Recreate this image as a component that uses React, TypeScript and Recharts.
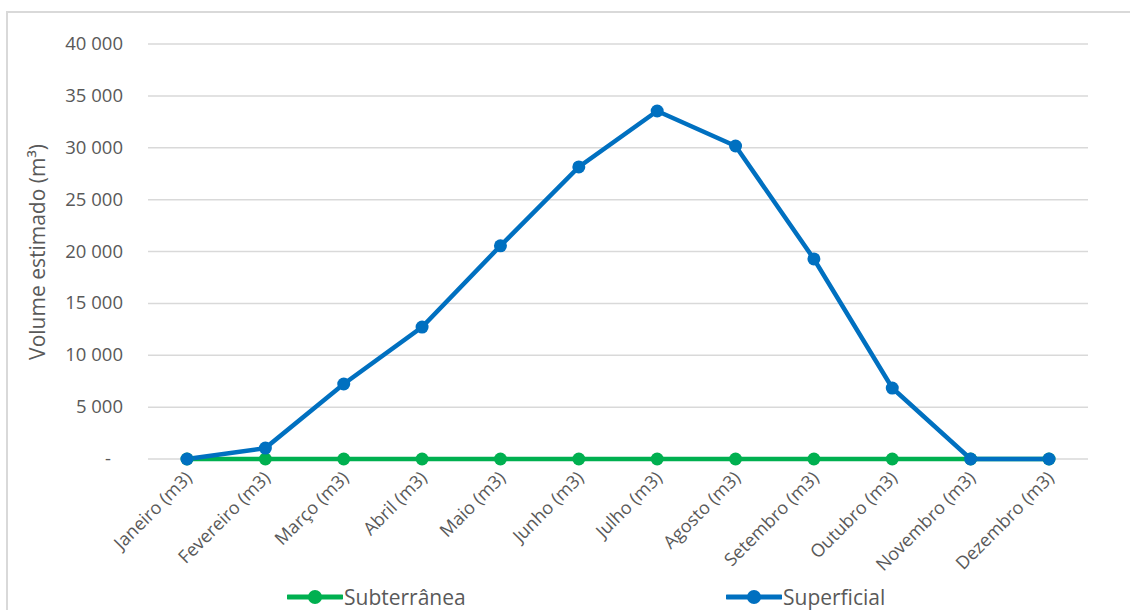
import React from "react";
import { LineChart, Line, XAxis, YAxis, CartesianGrid } from "recharts";

const MONTHS = [
  "Janeiro (m3)",
  "Fevereiro (m3)",
  "Março (m3)",
  "Abril (m3)",
  "Maio (m3)",
  "Junho (m3)",
  "Julho (m3)",
  "Agosto (m3)",
  "Setembro (m3)",
  "Outubro (m3)",
  "Novembro (m3)",
  "Dezembro (m3)",
];

const SUBTERRANEA = [0, 0, 0, 0, 0, 0, 0, 0, 0, 0, 0, 0];
const SUPERFICIAL = [0, 1050, 7230, 12720, 20550, 28150, 33540, 30170, 19280, 6840, 0, 0];

const Y_TICKS = [0, 5000, 10000, 15000, 20000, 25000, 30000, 35000, 40000];

const GREEN = "#00B050";
const BLUE = "#0070C0";
const TEXT = "#595959";
const FONT = "'Open Sans', sans-serif";

const rows = MONTHS.map((name, i) => ({
  name,
  sub: SUBTERRANEA[i],
  sup: SUPERFICIAL[i],
}));

const fmtY = (v: number) =>
  v === 0 ? "-" : String(v).replace(/\B(?=(\d{3})+(?!\d))/g, " ");

function YTick(props: any) {
  const { x, y, payload } = props;
  const v = payload.value as number;
  return (
    <text
      x={v === 0 ? x - 12 : x}
      y={y}
      dy={6}
      textAnchor="end"
      fill={TEXT}
      fontFamily={FONT}
      fontSize={18.5}
    >
      {fmtY(v)}
    </text>
  );
}

function XTick(props: any) {
  const { x, y, payload } = props;
  const ax = x + 6;
  const ay = y + 12;
  return (
    <text
      x={ax}
      y={ay}
      textAnchor="end"
      transform={`rotate(-45, ${ax}, ${ay})`}
      fill={TEXT}
      fontFamily={FONT}
      fontSize={18}
    >
      {payload.value}
    </text>
  );
}

function LegendItem({ left, color, label }: { left: number; color: string; label: string }) {
  return (
    <div
      style={{
        position: "absolute",
        left,
        top: 583,
        display: "flex",
        alignItems: "center",
        fontFamily: FONT,
        fontSize: 21,
        color: TEXT,
      }}
    >
      <svg width={56} height={28}>
        <line x1={1} y1={14} x2={55} y2={14} stroke={color} strokeWidth={5} strokeLinecap="round" />
        <circle cx={28} cy={14} r={7} fill={color} />
      </svg>
      <span style={{ marginLeft: 1 }}>{label}</span>
    </div>
  );
}

export default function App() {
  return (
    <div
      style={{
        position: "absolute",
        left: 0,
        top: 0,
        width: 1130,
        height: 610,
        overflow: "hidden",
        background: "#fff",
      }}
    >
      <div
        style={{
          position: "absolute",
          left: 6,
          top: 11,
          width: 1160,
          height: 640,
          border: "2px solid #d9d9d9",
        }}
      />
      <div style={{ position: "absolute", left: 0, top: 0 }}>
        <LineChart
          width={1130}
          height={610}
          data={rows}
          margin={{ top: 44, right: 42, left: 0, bottom: 0 }}
        >
          <CartesianGrid vertical={false} stroke="#d9d9d9" strokeWidth={1.5} />
          <XAxis
            dataKey="name"
            interval={0}
            padding={{ left: 39, right: 39 }}
            axisLine={false}
            tickLine={false}
            tick={<XTick />}
            height={151}
          />
          <YAxis
            domain={[0, 40000]}
            ticks={Y_TICKS}
            width={148}
            axisLine={false}
            tickLine={false}
            tickMargin={19}
            tick={<YTick />}
            label={() => {
              const cx = 37;
              const cy = 252;
              return (
                <text
                  x={cx}
                  y={cy}
                  textAnchor="middle"
                  dominantBaseline="central"
                  transform={`rotate(-90, ${cx}, ${cy})`}
                  fill={TEXT}
                  fontFamily={FONT}
                  fontSize={21}
                >
                  Volume estimado (m³)
                </text>
              );
            }}
          />
          <Line
            dataKey="sub"
            stroke={GREEN}
            strokeWidth={4.5}
            dot={{ r: 6.5, fill: GREEN, stroke: GREEN, strokeWidth: 0 }}
            isAnimationActive={false}
          />
          <Line
            dataKey="sup"
            stroke={BLUE}
            strokeWidth={4.5}
            dot={{ r: 6.5, fill: BLUE, stroke: BLUE, strokeWidth: 0 }}
            isAnimationActive={false}
          />
        </LineChart>
      </div>
      <LegendItem left={287} color={GREEN} label="Subterrânea" />
      <LegendItem left={726} color={BLUE} label="Superficial" />
    </div>
  );
}
